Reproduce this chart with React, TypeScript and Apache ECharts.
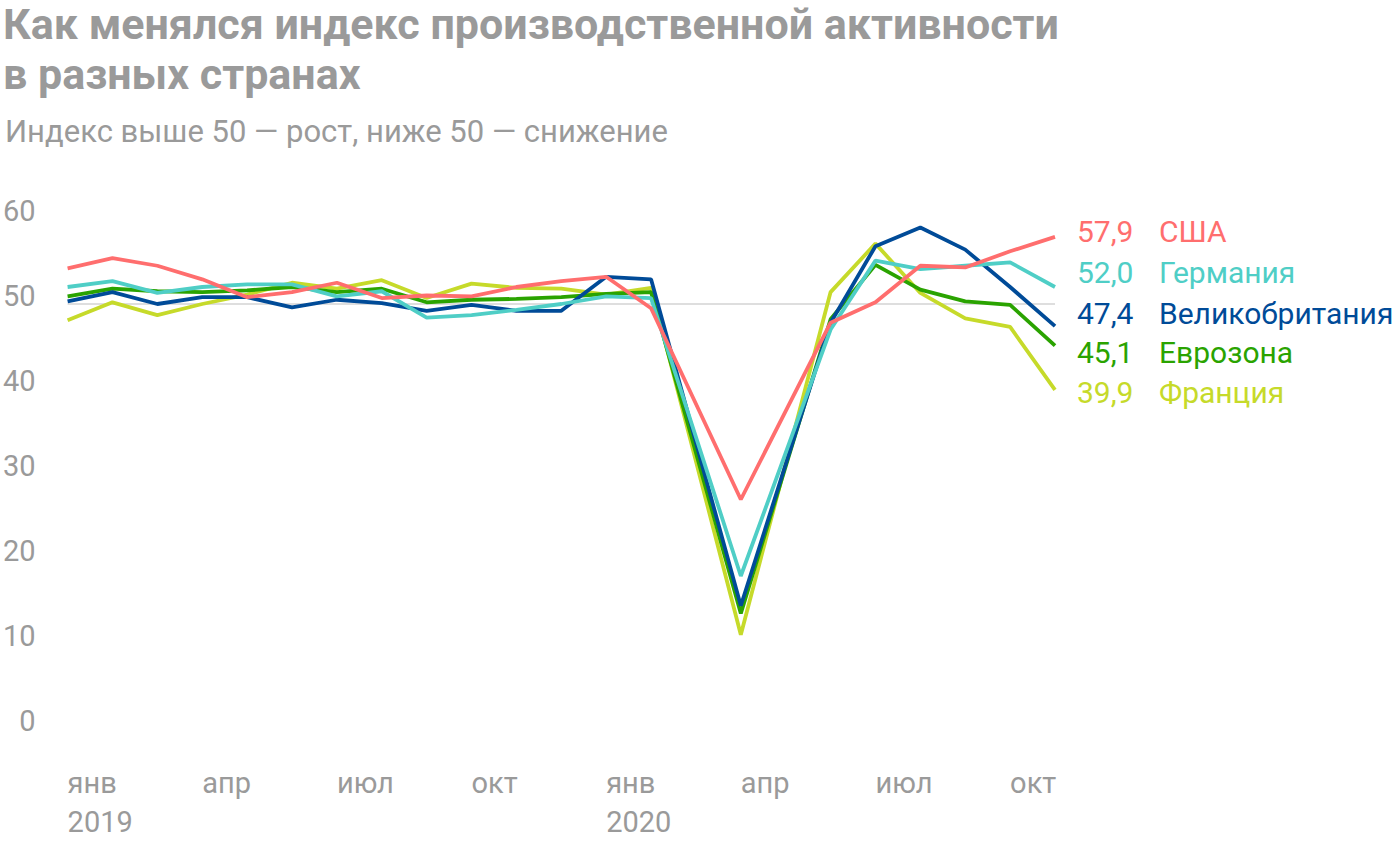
import React, { useEffect, useRef } from "react";
import * as echarts from "echarts";

const categories = [
  "янв 2019", "фев 2019", "мар 2019", "апр 2019", "май 2019", "июн 2019",
  "июл 2019", "авг 2019", "сен 2019", "окт 2019", "ноя 2019", "дек 2019",
  "янв 2020", "фев 2020", "мар 2020", "апр 2020", "май 2020", "июн 2020",
  "июл 2020", "авг 2020", "сен 2020", "окт 2020", "ноя 2020",
];

const usa = [54.2, 55.4, 54.5, 52.9, 50.8, 51.4, 52.5, 50.7, 51.0, 50.9, 52.0, 52.7, 53.2, 49.5, null, 27.0, null, 47.8, 50.2, 54.5, 54.3, 56.2, 57.9];
const germany = [52.0, 52.7, 51.3, 52.0, 52.3, 52.3, 50.9, 51.5, 48.4, 48.7, 49.3, 50.0, 50.9, 50.7, null, 18.0, null, 47.0, 55.1, 54.1, 54.5, 54.9, 52.0];
const uk = [50.3, 51.4, 50.0, 50.8, 50.8, 49.6, 50.5, 50.1, 49.2, 49.9, 49.2, 49.2, 53.2, 52.9, null, 14.5, null, 47.8, 56.8, 59.0, 56.4, 52.0, 47.4];
const eurozone = [50.9, 51.8, 51.5, 51.4, 51.6, 52.0, 51.4, 51.8, 50.2, 50.5, 50.6, 50.8, 51.2, 51.4, null, 13.6, null, 48.2, 54.6, 51.7, 50.3, 49.9, 45.1];
const france = [48.1, 50.2, 48.7, 50.0, 51.1, 52.5, 51.8, 52.8, 50.7, 52.4, 51.9, 51.8, 51.1, 51.9, null, 11.1, null, 51.4, 57.1, 51.3, 48.3, 47.3, 39.9];

const yTicks = [0, 10, 20, 30, 40, 50, 60];
const seriesNames = ["США", "Германия", "Великобритания", "Еврозона", "Франция"];
const seriesColors = ["#ff6e6e", "#4fcec6", "#004b98", "#2aa300", "#c6da2a"];
const labelShift = [-5, -15, -13, 7, 3];

const FONT = "Roboto, 'Noto Sans', sans-serif";
const GRAY = "#9a9a9a";

export default function App() {
  const ref = useRef<HTMLDivElement>(null);

  useEffect(() => {
    if (!ref.current) return;
    const chart = echarts.init(ref.current, undefined, { renderer: "svg" });
    const dataSets = [usa, germany, uk, eurozone, france];

    const series: any[] = dataSets
      .map((d, i) => ({
        name: seriesNames[i],
        type: "line",
        data: d,
        connectNulls: true,
        symbol: "none",
        z: 10 - i,
        lineStyle: { color: seriesColors[i], width: 3.8 },
        itemStyle: { color: seriesColors[i] },
        endLabel: {
          show: true,
          distance: 0,
          offset: [22, labelShift[i]],
          align: "left",
          verticalAlign: "middle",
          formatter: (p: any) => {
            const v = Array.isArray(p.value) ? p.value[1] : p.value;
            return `{v|${Number(v).toFixed(1).replace(".", ",")}}{n|${p.seriesName}}`;
          },
          rich: {
            v: { width: 82, color: seriesColors[i], fontSize: 30, fontFamily: FONT },
            n: { color: seriesColors[i], fontSize: 30, fontFamily: FONT },
          },
        },
      }))
      .reverse();

    series[0].markLine = {
      silent: true,
      symbol: "none",
      label: { show: false },
      lineStyle: { color: "#dedede", width: 2, type: "solid" },
      data: [{ yAxis: 50 }],
      z: 1,
    };

    chart.setOption({
      animation: false,
      title: [
        {
          text: "Как менялся индекс производственной активности\nв разных странах",
          left: -2,
          top: -6,
          textStyle: {
            fontFamily: FONT,
            fontSize: 43,
            fontWeight: "bold",
            color: GRAY,
            lineHeight: 50,
          },
        },
        {
          text: "Индекс выше 50 — рост, ниже 50 — снижение",
          left: 0,
          top: 111,
          textStyle: {
            fontFamily: FONT,
            fontSize: 31,
            fontWeight: "normal",
            color: GRAY,
          },
        },
      ],
      grid: { left: 67, right: 345, top: 219, bottom: 115, containLabel: false },
      xAxis: {
        type: "category",
        data: categories,
        boundaryGap: false,
        axisLine: { show: false },
        axisTick: { show: false },
        splitLine: { show: false },
        axisLabel: {
          interval: (i: number) => i % 3 === 0,
          align: "left",
          verticalAlign: "top",
          margin: 34,
          lineHeight: 39,
          fontSize: 29,
          fontFamily: FONT,
          color: GRAY,
          formatter: (value: string) => {
            const [m, y] = value.split(" ");
            return m === "янв" ? `${m}\n${y}` : m;
          },
        },
      },
      yAxis: {
        type: "value",
        min: yTicks[0],
        max: yTicks[yTicks.length - 1],
        interval: 10,
        axisLine: { show: false },
        axisTick: { show: false },
        splitLine: { show: false },
        axisLabel: {
          margin: 32,
          color: GRAY,
          formatter: (v: number) => `{a|${v}}`,
          rich: {
            a: {
              fontSize: 29,
              fontFamily: FONT,
              color: GRAY,
              padding: [0, 0, 16, 0],
            },
          },
        },
      },
      series,
    });

    return () => chart.dispose();
  }, []);

  return (
    <div
      ref={ref}
      style={{ position: "fixed", left: 0, top: 0, width: 1400, height: 844, background: "#fff" }}
    />
  );
}
